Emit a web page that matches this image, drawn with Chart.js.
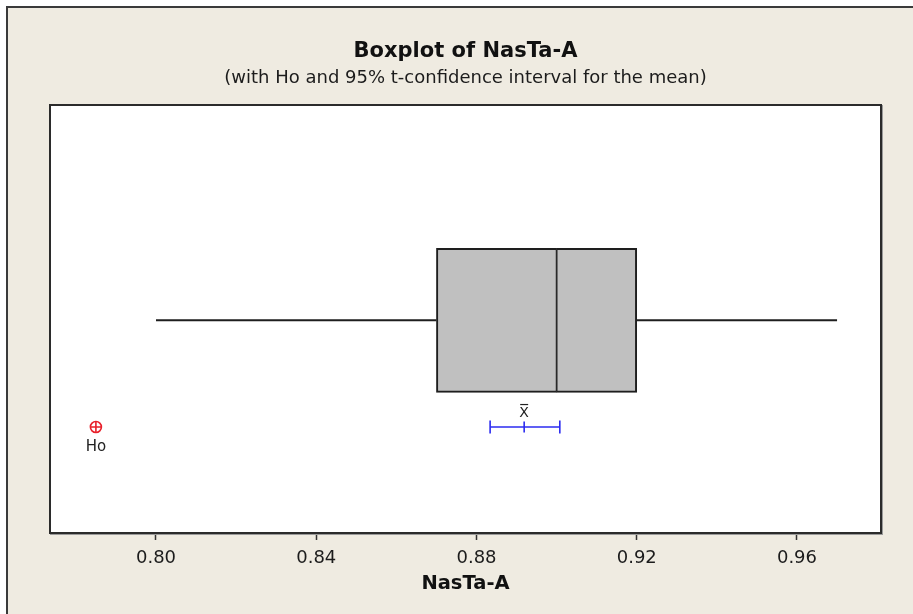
<!DOCTYPE html>
<html>
<head>
<meta charset="utf-8">
<title>Boxplot of NasTa-A</title>
<script src="https://cdn.jsdelivr.net/npm/chart.js@4/dist/chart.umd.min.js"></script>
<style>
  html, body { margin: 0; padding: 0; background: #ffffff; }
  #wrap { position: absolute; left: 0; top: 0; width: 913px; height: 614px; }
</style>
</head>
<body>
<div id="wrap"><canvas id="chart" width="913" height="614"></canvas></div>
<script>
// Variable being summarised
const variableName = 'NasTa-A';
// Five-number summary: minimum, Q1, median, Q3, maximum
const fiveNumber = [0.80, 0.87, 0.90, 0.92, 0.97];
// 95% t-confidence interval for the mean: lower, mean, upper
const meanInterval = [0.8834, 0.8919, 0.9008];
// Hypothesised mean (Ho)
const hoValue = [0.785];
// Tick positions on the value axis
const tickValues = [0.80, 0.84, 0.88, 0.92, 0.96];

// Row positions on the hidden vertical axis
const BOX_ROW = 2;
const CI_ROW = 3;

const FONT = '"DejaVu Sans", sans-serif';
const [vMin, q1, med, q3, vMax] = fiveNumber;
const [ciLow, meanVal, ciHigh] = meanInterval;

// Page background, outer frame and the white plotting panel
const framePlugin = {
  id: 'frame',
  beforeDraw(chart) {
    const { ctx, width, height, chartArea: a } = chart;
    ctx.save();
    ctx.fillStyle = '#ffffff';
    ctx.fillRect(0, 0, width, height);
    ctx.fillStyle = '#efebe1';
    ctx.fillRect(6, 6, width - 6, height - 6);
    ctx.strokeStyle = '#3a3a3a';
    ctx.lineWidth = 2;
    ctx.beginPath();
    ctx.moveTo(7, height);
    ctx.lineTo(7, 7);
    ctx.lineTo(width, 7);
    ctx.stroke();
    ctx.fillStyle = '#ffffff';
    ctx.fillRect(a.left, a.top, a.right - a.left, a.bottom - a.top);
    ctx.restore();
  },
  afterDraw(chart) {
    const { ctx, chartArea: a } = chart;
    ctx.save();
    ctx.strokeStyle = '#9a9a9a';
    ctx.lineWidth = 1;
    ctx.strokeRect(a.left + 0.5, a.top + 0.5, a.right - a.left + 1, a.bottom - a.top + 1);
    ctx.strokeStyle = '#2b2b2b';
    ctx.lineWidth = 2;
    ctx.strokeRect(a.left, a.top, a.right - a.left, a.bottom - a.top);
    ctx.restore();
  }
};

// Text markers for the mean symbol and the hypothesised value
const markerLabels = {
  id: 'markerLabels',
  afterDatasetsDraw(chart) {
    const { ctx, scales: { x, y } } = chart;
    const rowY = y.getPixelForValue(CI_ROW);
    const mx = x.getPixelForValue(meanVal);
    ctx.save();
    ctx.textAlign = 'center';
    ctx.textBaseline = 'middle';
    ctx.fillStyle = '#222222';
    ctx.font = '14px ' + FONT;
    ctx.fillText('X', mx, rowY - 14);
    // bar over the X
    ctx.strokeStyle = '#222222';
    ctx.lineWidth = 1.2;
    ctx.beginPath();
    ctx.moveTo(mx - 4, rowY - 22.5);
    ctx.lineTo(mx + 4, rowY - 22.5);
    ctx.stroke();
    ctx.font = '15px ' + FONT;
    ctx.fillText('Ho', x.getPixelForValue(hoValue[0]), rowY + 20);
    ctx.restore();
  }
};

const boxFill = '#c0c0c0';
const edge = '#1e1e1e';
const ciBlue = '#2b2bf0';
const hoRed = '#e8202a';

new Chart(document.getElementById('chart'), {
  type: 'bar',
  data: {
    datasets: [
      {
        label: 'Q1 to median',
        data: [{ x: [q1, med], y: BOX_ROW }],
        backgroundColor: boxFill,
        borderColor: edge,
        borderWidth: { left: 2, top: 2, bottom: 2, right: 1.2 },
        borderSkipped: false,
        barThickness: 144,
        order: 3
      },
      {
        label: 'median to Q3',
        data: [{ x: [med, q3], y: BOX_ROW }],
        backgroundColor: boxFill,
        borderColor: edge,
        borderWidth: { left: 1.2, top: 2, bottom: 2, right: 2 },
        borderSkipped: false,
        barThickness: 144,
        order: 3
      },
      {
        type: 'line',
        label: 'lower whisker',
        data: [{ x: vMin, y: BOX_ROW }, { x: q1, y: BOX_ROW }],
        borderColor: edge,
        borderWidth: 2,
        pointRadius: 0,
        order: 4
      },
      {
        type: 'line',
        label: 'upper whisker',
        data: [{ x: q3, y: BOX_ROW }, { x: vMax, y: BOX_ROW }],
        borderColor: edge,
        borderWidth: 2,
        pointRadius: 0,
        order: 4
      },
      {
        type: 'line',
        label: '95% CI for the mean',
        data: [
          { x: ciLow, y: CI_ROW },
          { x: meanVal, y: CI_ROW },
          { x: ciHigh, y: CI_ROW }
        ],
        borderColor: ciBlue,
        borderWidth: 1.5,
        pointStyle: 'line',
        pointRotation: 90,
        pointRadius: [6.5, 5.5, 6.5],
        pointBorderColor: ciBlue,
        pointBorderWidth: 1.6,
        order: 1
      },
      {
        type: 'line',
        label: 'Ho',
        data: [{ x: hoValue[0], y: CI_ROW }],
        showLine: false,
        pointStyle: 'circle',
        pointRadius: 5.5,
        pointBackgroundColor: 'rgba(0,0,0,0)',
        pointBorderColor: hoRed,
        pointBorderWidth: 1.6,
        order: 1
      },
      {
        type: 'line',
        label: 'Ho cross',
        data: [{ x: hoValue[0], y: CI_ROW }],
        showLine: false,
        pointStyle: 'cross',
        pointRadius: 5.5,
        pointBorderColor: hoRed,
        pointBorderWidth: 1.6,
        order: 1
      }
    ]
  },
  options: {
    indexAxis: 'y',
    responsive: false,
    animation: false,
    devicePixelRatio: 1,
    datasets: { bar: { grouped: false } },
    layout: { padding: { left: 50, right: 32, top: 0, bottom: 0 } },
    plugins: {
      legend: { display: false },
      tooltip: { enabled: false },
      title: {
        display: true,
        text: 'Boxplot of ' + variableName,
        color: '#111111',
        font: { family: FONT, size: 21, weight: 'bold' },
        padding: { top: 39.4, bottom: 0 }
      },
      subtitle: {
        display: true,
        text: '(with Ho and 95% t-confidence interval for the mean)',
        color: '#1c1c1c',
        font: { family: FONT, size: 18 },
        padding: { top: 2.6, bottom: 16.2 }
      }
    },
    scales: {
      x: {
        type: 'linear',
        min: 0.773541,
        max: 0.98097,
        afterFit(scale) { scale.height = 81; },
        afterBuildTicks(scale) { scale.ticks = tickValues.map(v => ({ value: v })); },
        border: { display: false },
        grid: {
          drawOnChartArea: false,
          drawTicks: true,
          tickLength: 7,
          tickWidth: 1.5,
          tickColor: '#333333'
        },
        ticks: {
          padding: 8,
          color: '#1c1c1c',
          font: { family: FONT, size: 18 },
          callback: v => Number(v).toFixed(2)
        },
        title: {
          display: true,
          text: variableName,
          color: '#111111',
          font: { family: FONT, size: 19.5, weight: 'bold' },
          padding: { top: 0, bottom: 18.3 }
        }
      },
      y: {
        type: 'linear',
        display: false,
        min: -0.018,
        max: 3.993,
        reverse: true,
        offset: false
      }
    }
  },
  plugins: [framePlugin, markerLabels]
});
</script>
</body>
</html>
